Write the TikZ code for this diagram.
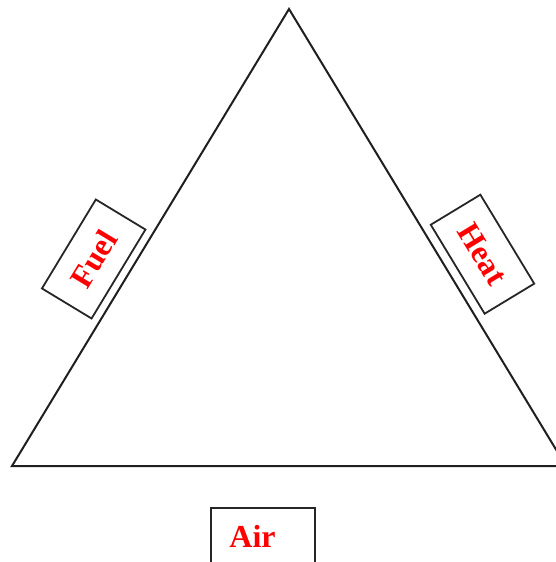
\documentclass[tikz,border=0pt]{standalone}
\usepackage{fontspec}
\setmainfont{Liberation Serif}
\begin{document}
\begin{tikzpicture}[x=1pt,y=-1pt,
  side/.style={draw=black!88,line width=2pt,line join=miter},
  label/.style={draw=black!85,line width=1.8pt,fill=white,minimum width=104pt,minimum height=58pt,inner sep=0pt,
    text=red,font=\fontsize{32}{34}\selectfont\bfseries}]
\useasboundingbox (0,0) rectangle (556,562);
\clip (0,0) rectangle (556,562);
\coordinate (apex) at (289,9);
\coordinate (bl) at (12,466);
\coordinate (br) at (566,466);
\draw[side] (bl) -- (apex) -- (br) -- cycle;
\node[label,rotate=58.8] (fuel) at (93.7,259) {Fuel};
\node[label,rotate=-58.8] (heat) at (482.5,254.2) {Heat};
\node[draw=black!85,line width=1.8pt,minimum width=104.3pt,minimum height=58.3pt,inner sep=0pt] (airbox) at (262.85,536.85) {};
\node[text=red,font=\fontsize{32}{34}\selectfont\bfseries,inner sep=0pt] (air) at (252.5,536) {Air};
\end{tikzpicture}
\end{document}
